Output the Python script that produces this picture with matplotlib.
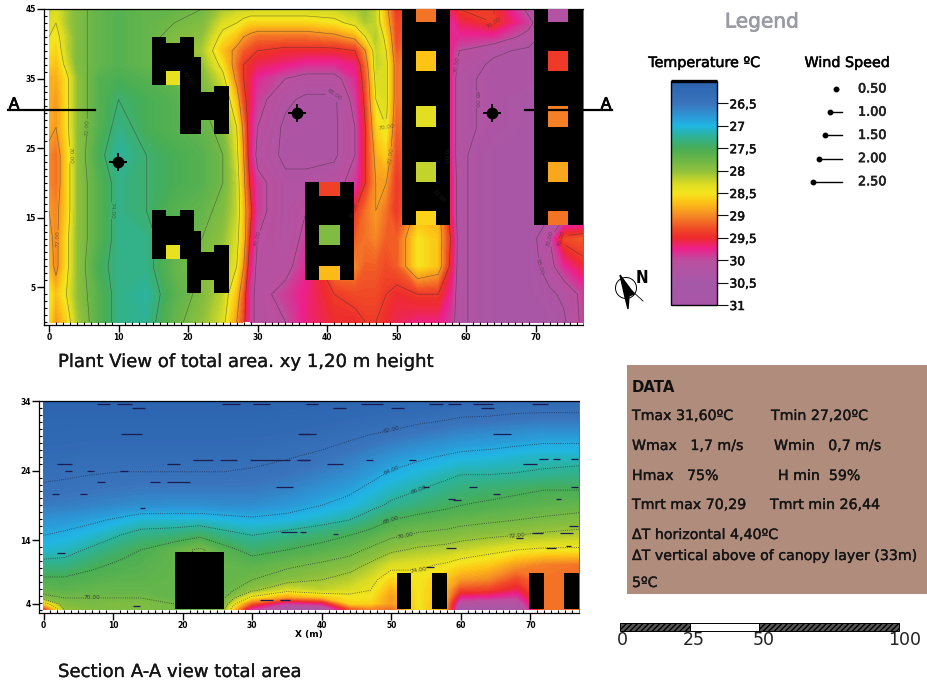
import numpy as np
import matplotlib
matplotlib.use("Agg")
import matplotlib.pyplot as plt
import matplotlib.patheffects as pe
from matplotlib.colors import LinearSegmentedColormap, Normalize
from matplotlib.cm import ScalarMappable
from matplotlib.patches import Circle, Polygon, Rectangle

W, H = 928, 683

# colour scale
scale_t = [26.0, 26.5, 26.8, 27.0, 27.2, 27.5, 28.0, 28.3, 28.5, 28.7, 29.0, 29.3, 29.5, 29.75, 30.0, 30.5, 31.0]
scale_c = ["#2a62ae", "#3a74bc", "#2b9ad8", "#1fb6e4", "#2ab3a0", "#47ad55", "#8ec03c", "#dcdc22", "#f4e61e",
           "#fdc315", "#f58a25", "#f04a26", "#ee2b2c", "#ec1f8c", "#bb4f9f", "#a658a8", "#a855a8"]
legend_ticks = [26.5, 27, 27.5, 28, 28.5, 29, 29.5, 30, 30.5, 31]

# plan view temperature (rows are y, columns are x)
plan_x = [0, 1, 2.5, 4, 7, 10, 14, 18, 22, 25, 27, 28, 29, 30, 34, 37, 41, 44, 45.5, 47, 48.5, 50, 53, 56, 58, 59, 64, 69, 72, 74, 77]
plan_y = [0, 4, 8, 12, 16, 20, 24, 28, 32, 35, 37, 39, 41, 43, 45]
plan_t = [
    [28.5, 28.9, 28.6, 28.1, 27.6, 27.3, 27.25, 27.7, 28.0, 28.3, 28.9, 29.3, 29.9, 30.1, 30.0, 29.7, 29.5, 29.5, 29.4, 29.4, 29.5, 29.6, 29.7, 29.7, 29.9, 30.2, 30.4, 30.4, 30.4, 30.3, 29.9],
    [28.4, 28.7, 28.4, 28.0, 27.6, 27.3, 27.2, 27.6, 27.9, 28.2, 28.7, 29.2, 29.9, 30.1, 29.9, 29.7, 29.4, 29.3, 29.3, 29.3, 29.4, 29.5, 29.4, 29.4, 29.8, 30.2, 30.4, 30.4, 30.3, 30.2, 29.9],
    [28.7, 29.0, 28.5, 28.0, 27.5, 27.3, 27.3, 27.7, 27.9, 28.1, 28.4, 28.9, 29.7, 30.1, 30.1, 29.8, 29.0, 29.0, 29.2, 29.2, 29.3, 29.2, 28.5, 28.7, 29.6, 30.2, 30.4, 30.4, 30.1, 29.8, 29.5],
    [28.8, 29.0, 28.5, 28.0, 27.6, 27.3, 27.3, 27.6, 27.8, 28.0, 28.3, 28.7, 29.5, 30.0, 30.2, 29.9, 29.5, 29.2, 29.1, 29.0, 29.2, 29.2, 28.5, 28.7, 29.5, 30.2, 30.4, 30.4, 30.0, 29.3, 29.2],
    [28.9, 29.0, 28.6, 28.0, 27.6, 27.3, 27.4, 27.6, 27.7, 27.9, 28.2, 28.7, 29.3, 29.9, 30.2, 30.0, 29.7, 29.4, 29.1, 28.9, 29.1, 29.4, 28.8, 28.8, 29.7, 30.2, 30.4, 30.4, 30.3, 30.3, 30.3],
    [29.0, 29.1, 28.6, 28.0, 27.6, 27.3, 27.4, 27.5, 27.6, 27.8, 28.2, 28.8, 29.5, 29.9, 30.2, 30.2, 30.1, 29.9, 29.4, 28.9, 28.9, 29.4, 29.0, 29.0, 29.7, 30.2, 30.4, 30.4, 30.4, 30.4, 30.4],
    [29.0, 29.1, 28.6, 28.0, 27.5, 27.2, 27.4, 27.5, 27.6, 27.8, 28.3, 28.9, 29.7, 30.1, 30.3, 30.3, 30.3, 30.0, 29.4, 28.8, 28.6, 29.3, 29.0, 29.0, 29.8, 30.2, 30.4, 30.4, 30.4, 30.4, 30.4],
    [28.8, 28.9, 28.5, 28.0, 27.6, 27.3, 27.5, 27.6, 27.7, 27.9, 28.4, 29.0, 29.7, 30.0, 30.3, 30.3, 30.3, 30.0, 29.4, 28.6, 28.4, 29.2, 29.0, 29.0, 29.8, 30.2, 30.3, 30.4, 30.4, 30.4, 30.4],
    [28.8, 28.9, 28.5, 28.0, 27.6, 27.4, 27.5, 27.6, 27.8, 28.1, 28.7, 29.3, 29.6, 29.9, 30.2, 30.3, 30.3, 29.9, 29.3, 28.4, 28.3, 29.1, 29.0, 29.0, 29.8, 30.2, 30.3, 30.4, 30.4, 30.4, 30.4],
    [28.8, 28.8, 28.5, 28.0, 27.6, 27.5, 27.6, 27.7, 27.9, 28.3, 29.0, 29.4, 29.6, 29.8, 30.0, 30.1, 30.1, 29.8, 29.2, 28.3, 28.3, 29.1, 29.0, 29.0, 29.8, 30.2, 30.3, 30.3, 30.4, 30.4, 30.4],
    [28.6, 28.7, 28.3, 27.9, 27.7, 27.6, 27.7, 27.8, 28.0, 28.5, 29.1, 29.4, 29.5, 29.6, 29.7, 29.8, 29.8, 29.7, 29.1, 28.2, 28.3, 29.1, 29.0, 29.0, 29.8, 30.1, 30.3, 30.3, 30.4, 30.4, 30.4],
    [28.5, 28.6, 28.2, 27.9, 27.7, 27.6, 27.7, 27.9, 28.1, 28.7, 29.0, 29.2, 29.3, 29.4, 29.5, 29.5, 29.5, 29.4, 28.9, 28.2, 28.4, 29.2, 29.0, 29.0, 29.8, 30.0, 30.2, 30.3, 30.4, 30.4, 30.4],
    [28.4, 28.5, 28.2, 27.9, 27.7, 27.6, 27.7, 27.9, 28.0, 28.5, 28.7, 28.9, 29.0, 29.1, 29.1, 29.1, 29.0, 28.8, 28.4, 28.1, 28.5, 29.3, 29.1, 29.1, 29.8, 29.8, 29.8, 30.1, 30.4, 30.4, 30.4],
    [28.3, 28.4, 28.1, 27.9, 27.7, 27.6, 27.7, 27.8, 27.9, 28.3, 28.4, 28.5, 28.6, 28.6, 28.6, 28.6, 28.5, 28.3, 28.1, 28.2, 28.7, 29.3, 29.2, 29.3, 29.8, 29.6, 29.4, 29.9, 30.4, 30.4, 30.4],
    [28.2, 28.3, 28.1, 27.9, 27.7, 27.6, 27.7, 27.7, 27.8, 28.1, 28.2, 28.2, 28.2, 28.2, 28.2, 28.2, 28.2, 28.1, 28.0, 28.2, 28.8, 29.4, 29.3, 29.4, 29.6, 29.4, 29.4, 30.1, 30.4, 30.4, 30.4],
]

# plan view buildings, metres
bld_x = [14.8, 16.8, 18.8, 20.8, 21.9, 23.8, 14.8, 16.8, 18.8, 20.8, 21.9, 23.8, 36.8, 50.7, 69.8]
bld_y = [34.1, 36.1, 27.0, 27.0, 29.0, 27.0, 9.1, 11.1, 9.1, 4.1, 6.1, 4.1, 6.1, 14.0, 14.0]
bld_w = [2.0, 2.0, 2.0, 1.1, 1.9, 2.1, 2.0, 2.0, 2.0, 1.1, 1.9, 2.1, 7.0, 7.0, 7.0]
bld_h = [6.9, 4.0, 14.0, 11.1, 4.1, 7.0, 7.0, 4.1, 7.0, 9.0, 4.0, 7.0, 14.0, 31.0, 31.0]
bld_x2 = [18.8, 18.8, 19.8]
bld_y2 = [29.0, 9.1, 4.1]
bld_w2 = [2.0, 1.0, 1.0]
bld_h2 = [12.0, 7.0, 12.0]

# courtyards inside the blocks
yard_x = [16.8, 16.8, 38.8, 38.8, 38.8, 52.8, 52.8, 52.8, 52.8, 52.8, 71.8, 71.8, 71.8, 71.8, 71.8]
yard_y = [34.1, 9.1, 18.1, 11.1, 6.1, 43.1, 36.1, 28.1, 20.2, 14.0, 43.1, 36.1, 28.1, 20.2, 14.0]
yard_w = [2.0, 2.0, 3.0, 3.0, 3.0, 2.9, 2.9, 2.9, 2.9, 2.9, 2.8, 2.8, 2.8, 2.8, 2.8]
yard_h = [2.0, 2.0, 2.0, 2.9, 2.0, 1.9, 2.8, 2.9, 2.8, 2.0, 1.9, 2.8, 2.9, 2.8, 2.0]
yard_t = [28.4, 28.4, 29.35, 27.9, 28.75, 29.1, 28.7, 28.35, 28.2, 28.6, 30.2, 29.4, 29.05, 28.85, 29.1]

receptor_x = [9.9, 35.7, 63.7]
receptor_y = [23.0, 30.0, 30.0]

plan_levels = [27.4, 27.8, 28.4, 28.9, 29.4, 30.0, 30.25]
plan_labels = {27.4: "74.00", 27.8: "72.00", 28.4: "70.00", 28.9: "72.00", 29.4: "70.00", 30.0: "70.00", 30.25: "68.00"}

# section A-A temperature
sec_x = [0, 3, 7, 11, 14, 19, 22.5, 26, 30, 35, 40, 44, 47, 50, 54, 58, 60, 64, 68, 72, 77]
sec_y = [4.1, 4.8, 5.7, 6.8, 8.3, 10.4, 12.6, 14.7, 16.9, 19.0, 21.2, 23.4, 26.0, 29.8, 34.0]
sec_t = [
    [29.3, 28.0, 27.9, 27.9, 27.9, 27.8, 27.8, 28.0, 29.8, 30.3, 30.3, 29.2, 29.0, 29.1, 28.5, 28.9, 30.4, 30.4, 30.4, 29.1, 29.1],
    [28.6, 27.9, 27.85, 27.9, 27.9, 27.8, 27.8, 27.9, 29.2, 29.9, 29.7, 28.6, 28.6, 28.9, 28.5, 28.9, 30.15, 30.2, 30.2, 29.1, 29.1],
    [27.9, 27.8, 27.8, 27.8, 27.8, 27.7, 27.7, 27.8, 28.5, 28.9, 28.7, 28.5, 28.5, 28.9, 28.5, 28.8, 29.75, 29.8, 29.9, 29.1, 29.1],
    [27.7, 27.65, 27.7, 27.7, 27.7, 27.7, 27.7, 27.7, 28.0, 28.3, 28.2, 28.3, 28.4, 28.8, 28.5, 28.8, 29.3, 29.35, 29.6, 29.1, 29.1],
    [27.55, 27.55, 27.6, 27.65, 27.65, 27.7, 27.7, 27.7, 27.8, 27.95, 28.05, 28.15, 28.3, 28.6, 28.5, 28.7, 28.9, 29.0, 29.3, 29.1, 29.1],
    [27.3, 27.3, 27.45, 27.55, 27.6, 27.7, 27.8, 27.7, 27.65, 27.75, 27.85, 27.95, 28.1, 28.3, 28.35, 28.45, 28.55, 28.65, 28.9, 29.05, 29.1],
    [27.05, 27.1, 27.25, 27.4, 27.5, 27.7, 27.85, 27.6, 27.4, 27.5, 27.6, 27.7, 27.85, 28.0, 28.1, 28.15, 28.2, 28.3, 28.4, 28.45, 28.45],
    [26.9, 26.95, 27.05, 27.2, 27.3, 27.35, 27.45, 27.3, 27.2, 27.3, 27.4, 27.5, 27.6, 27.75, 27.85, 27.9, 27.95, 28.0, 28.05, 28.1, 28.15],
    [26.75, 26.78, 26.85, 26.95, 27.05, 27.05, 27.05, 27.0, 26.95, 27.0, 27.1, 27.2, 27.35, 27.5, 27.6, 27.65, 27.7, 27.75, 27.8, 27.85, 27.9],
    [26.55, 26.57, 26.62, 26.67, 26.7, 26.72, 26.72, 26.7, 26.7, 26.78, 26.9, 27.0, 27.12, 27.25, 27.35, 27.45, 27.5, 27.55, 27.6, 27.65, 27.7],
    [26.45, 26.47, 26.5, 26.52, 26.55, 26.55, 26.55, 26.55, 26.55, 26.62, 26.75, 26.85, 26.98, 27.1, 27.2, 27.3, 27.35, 27.4, 27.45, 27.5, 27.5],
    [26.35, 26.37, 26.4, 26.42, 26.42, 26.42, 26.42, 26.42, 26.45, 26.5, 26.6, 26.7, 26.82, 26.95, 27.05, 27.15, 27.2, 27.2, 27.22, 27.25, 27.3],
    [26.25, 26.27, 26.3, 26.3, 26.3, 26.3, 26.3, 26.3, 26.32, 26.38, 26.45, 26.55, 26.65, 26.75, 26.85, 26.93, 26.97, 27.0, 27.05, 27.1, 27.1],
    [26.15, 26.15, 26.17, 26.17, 26.17, 26.17, 26.17, 26.17, 26.17, 26.2, 26.25, 26.3, 26.35, 26.4, 26.48, 26.55, 26.6, 26.63, 26.67, 26.7, 26.7],
    [26.05, 26.05, 26.05, 26.05, 26.05, 26.05, 26.05, 26.05, 26.05, 26.05, 26.05, 26.08, 26.08, 26.1, 26.1, 26.12, 26.15, 26.15, 26.2, 26.2, 26.2],
]

sec_bld_x = [18.9, 50.8, 55.8, 69.8, 74.8]
sec_bld_w = [7.0, 2.1, 2.2, 2.1, 2.2]
sec_bld_h = [8.2, 5.2, 5.2, 5.2, 5.2]
sec_base = 4.1

sec_levels = [26.4, 26.9, 27.2, 27.5, 27.8, 28.05, 28.4]
sec_labels = {26.4: "62.00", 26.9: "64.00", 27.2: "66.00", 27.5: "68.00", 27.8: "70.00", 28.05: "72.00", 28.4: "74.00"}

# wind vectors that read as short dashes in the section
dash_x0 = [7.7, 10.5, 25.6, 30.1, 12.7, 11.2, 36.6, 1.9, 3.1, 21.5, 25.4, 29.7, 36.4, 17.7, 6.2, 11.0, 15.3, 17.7, 7.7, 33.5, 1.2, 5.3, 13.9, 34.2, 1.9, 12.9, 31.1, 34.0,
           37.8, 41.6, 45.7, 50.0, 55.5, 58.1, 61.7, 62.9, 70.3, 36.9, 64.6, 36.9, 40.7, 46.4, 52.6, 68.9, 71.3, 73.2, 75.9, 61.2, 54.6, 75.9, 58.9, 64.6, 73.7, 36.9, 41.6, 58.1, 74.2, 70.3, 75.6, 68.0, 75.1, 72.3, 57.9, 55.0]
dash_x1 = [9.6, 12.7, 28.2, 32.5, 14.6, 14.1, 38.3, 4.1, 4.1, 24.4, 27.8, 35.4, 38.3, 19.6, 7.2, 12.2, 16.7, 21.1, 8.9, 35.9, 2.2, 6.2, 14.6, 36.4, 3.1, 13.9, 33.0, 35.4,
           39.5, 43.5, 48.8, 51.9, 57.4, 60.0, 64.6, 64.8, 72.5, 39.2, 67.2, 38.3, 43.1, 47.4, 53.6, 71.0, 72.5, 74.2, 76.8, 62.4, 55.5, 76.8, 60.1, 65.6, 74.4, 37.8, 42.4, 59.1, 76.1, 71.8, 76.8, 68.9, 75.9, 73.7, 59.3, 56.2]
dash_y = [33.6, 33.6, 33.6, 33.6, 33.0, 29.3, 29.3, 24.9, 24.0, 25.5, 25.5, 25.5, 25.5, 24.9, 24.0, 24.0, 22.3, 22.3, 22.3, 21.6, 20.6, 20.6, 18.6, 15.2, 12.1, 4.6, 5.4, 5.4,
          33.6, 33.0, 33.6, 33.0, 33.6, 33.6, 33.6, 33.0, 33.6, 29.3, 29.3, 25.5, 24.9, 25.5, 25.5, 25.0, 25.6, 25.6, 25.6, 21.6, 21.6, 21.6, 19.8, 20.6, 19.9, 15.2, 14.9, 19.9, 15.1, 15.1, 16.1, 14.3, 13.2, 12.9, 12.9, 10.1]

wind_speed = [0.5, 1.0, 1.5, 2.0, 2.5]
wind_label = ["0.50", "1.00", "1.50", "2.00", "2.50"]
scale_marks = [0, 25, 50, 100]


def px_axes(fig, left, top, right, bottom):
    return fig.add_axes([left / W, 1 - bottom / H, (right - left) / W, (bottom - top) / H])


def style_axes(ax, xticks, yticks, ylabels):
    ax.set_xticks(xticks)
    ax.set_yticks(yticks)
    ax.set_yticklabels(ylabels)
    ax.set_xticks(np.arange(0, 77, 1), minor=True)
    ax.set_yticks(np.arange(np.ceil(ax.get_ylim()[0]), ax.get_ylim()[1], 1), minor=True)
    ax.tick_params(which="major", length=5, width=1.0, labelsize=5.5, pad=1)
    ax.tick_params(which="minor", length=2, width=0.8, direction="in")
    for lab in ax.get_xticklabels() + ax.get_yticklabels():
        lab.set_fontweight("bold")
    for side in ax.spines.values():
        side.set_linewidth(0.9)
    ax.spines["right"].set_linewidth(0.4)


# a thin stroke thickens regular text to the weight of the scanned labels
def thick(w=0.3, color="#151515"):
    return [pe.withStroke(linewidth=w, foreground=color)]


cmap = LinearSegmentedColormap.from_list("temp", [((t - 26) / 5, c) for t, c in zip(scale_t, scale_c)], N=512)
norm = Normalize(26, 31)
levels = np.linspace(26, 31, 161)

fig = plt.figure(figsize=(W / 100, H / 100), dpi=100)

# plan view
ax = px_axes(fig, 44, 9, 583, 325)
ax.set_xlim(-0.72, 76.8)
ax.set_ylim(-0.43, 45)
ax.contourf(plan_x, plan_y, np.array(plan_t), levels=levels, cmap=cmap, norm=norm, extend="both")
cs = ax.contour(plan_x, plan_y, np.array(plan_t), levels=plan_levels, colors="#303030", linewidths=0.45, alpha=0.55)
ax.clabel(cs, fmt=plan_labels, fontsize=4.2, inline=True, inline_spacing=0)
ax.bar(bld_x, bld_h, width=bld_w, bottom=bld_y, align="edge", color="black", zorder=3)
ax.bar(bld_x2, bld_h2, width=bld_w2, bottom=bld_y2, align="edge", color="black", zorder=3)
ax.bar(yard_x, yard_h, width=yard_w, bottom=yard_y, align="edge", color=cmap(norm(yard_t)), zorder=4)
ax.scatter(receptor_x, receptor_y, marker="o", s=55, color="black", zorder=5)
ax.scatter(receptor_x, receptor_y, marker="+", s=170, color="black", linewidths=1.4, zorder=5)
style_axes(ax, np.arange(0, 71, 10), [5, 15, 25, 35, 45], ["5", "15", "25", "35", "45"])

# section
ax2 = px_axes(fig, 39, 401, 579, 613)
ax2.set_xlim(-0.65, 77)
ax2.set_ylim(3.54, 34)
ax2.contourf(sec_x, sec_y, np.array(sec_t), levels=levels, cmap=cmap, norm=norm, extend="both")
cs2 = ax2.contour(sec_x, sec_y, np.array(sec_t), levels=sec_levels, colors="#202030", linewidths=0.6, linestyles=":", alpha=0.8)
ax2.clabel(cs2, fmt=sec_labels, fontsize=4.2, inline=True, inline_spacing=0)
ax2.hlines(dash_y, dash_x0, dash_x1, color="#1c1c50", linewidth=0.9, zorder=2)
ax2.bar(sec_bld_x, sec_bld_h, width=sec_bld_w, bottom=sec_base, align="edge", color="black", zorder=3)
style_axes(ax2, np.arange(0, 71, 10), [34, 24, 14, 4.9], ["34", "24", "14", "4"])
ax2.set_xlabel("X (m)", fontsize=6.5, fontweight="bold", labelpad=0)

# colour bar
cax = px_axes(fig, 671, 81, 717, 305)
cb = fig.colorbar(ScalarMappable(norm=norm, cmap=cmap), cax=cax)
cax.invert_yaxis()
cb.set_ticks(legend_ticks)
cb.set_ticklabels([str(t).replace(".", ",") for t in legend_ticks])
cax.tick_params(length=8, width=0.8, labelsize=8.8, pad=1, colors="#111111")
for lab in cax.get_yticklabels():
    lab.set_path_effects(thick(0.4))
cax.minorticks_off()
cb.outline.set_linewidth(1.0)
cax.hlines(26.0, 0, 1, color="black", linewidth=2.4, clip_on=False)

# everything else sits on a full page overlay in pixel units
page = fig.add_axes([0, 0, 1, 1], zorder=10)
page.set_xlim(0, W)
page.set_ylim(H, 0)
page.axis("off")
page.patch.set_alpha(0)

# section line A-A
page.plot([8, 95], [109.5, 109.5], color="black", lw=1.6)
page.plot([525, 612], [109.5, 109.5], color="black", lw=1.6)
page.text(14, 104, "A", fontsize=11, ha="center", va="center", path_effects=thick(0.6, "black"))
page.text(606, 104, "A", fontsize=11, ha="center", va="center", path_effects=thick(0.6, "black"))

page.text(58, 362, "Plant View of total area. xy 1,20 m height", fontsize=13, va="center", color="#151515", path_effects=thick(0.2))
page.text(58, 672, "Section A-A view total area", fontsize=13, va="center", color="#151515", path_effects=thick(0.2))

page.text(762, 22, "Legend", fontsize=14.5, ha="center", va="center", color="#9a9aa2", path_effects=thick(0.5, "#9a9aa2"))
page.text(704, 63, "Temperature ºC", fontsize=10.3, ha="center", va="center", path_effects=thick(0.4))
page.text(847, 63, "Wind Speed", fontsize=10.3, ha="center", va="center", path_effects=thick(0.4))

# wind speed key
row_y = 89
for speed, label in zip(wind_speed, wind_label):
    x_tail = 842 - speed * 11.6
    page.plot([x_tail, 842 if speed > 0.5 else x_tail + 2], [row_y, row_y], color="black", lw=1.0)
    page.plot([x_tail], [row_y], "o", color="black", ms=3.2)
    page.text(858, row_y, label, fontsize=9.2, va="center", color="#222222", path_effects=thick(0.5, "#222222"))
    row_y += 23.2

# north arrow
page.add_patch(Circle((626, 288), 10.5, fill=False, ec="black", lw=0.7))
page.add_patch(Polygon([[620, 275], [634, 294], [629, 296], [628, 309], [625, 297]], color="black"))
page.plot([630, 643], [289, 301], color="black", lw=0.6)
page.text(642, 278, "N", fontsize=12, ha="center", va="center", fontweight="bold", stretch="condensed")

# data box
page.add_patch(Rectangle((627, 365), 301, 229, color="#b08c7c", lw=0))
page.text(632, 387, "DATA", fontsize=10.7, va="center", fontweight="bold", color="#111111")
data_rows = [
    (632, 416, "Tmax 31,60ºC"), (771, 416, "Tmin 27,20ºC"),
    (632, 446, "Wmax   1,7 m/s"), (774, 446, "Wmin   0,7 m/s"),
    (632, 476, "Hmax   75%"), (778, 476, "H min  59%"),
    (632, 505, "Tmrt max 70,29"), (770, 505, "Tmrt min 26,44"),
    (632, 535, "ΔT horizontal 4,40ºC"),
    (632, 556, "ΔT vertical above of canopy layer (33m)"),
    (632, 583, "5ºC"),
]
for tx, ty, s in data_rows:
    page.text(tx, ty, s, fontsize=10.2, va="center", color="#151515", path_effects=thick(0.25))

# scale bar
bar_left = 620
bar_unit = 2.79
for a, b, face in zip(scale_marks[:-1], scale_marks[1:], ["#555555", "white", "#555555"]):
    page.add_patch(Rectangle((bar_left + a * bar_unit, 623), (b - a) * bar_unit, 8, facecolor=face, edgecolor="black",
                             lw=0.7, hatch="//////" if face != "white" else None))
for mark, tx in zip(scale_marks, [622, 694, 764, 905]):
    page.text(tx, 640, str(mark), fontsize=12.5, ha="center", va="center", color="#222222")

fig.savefig("out.png", dpi=100)
